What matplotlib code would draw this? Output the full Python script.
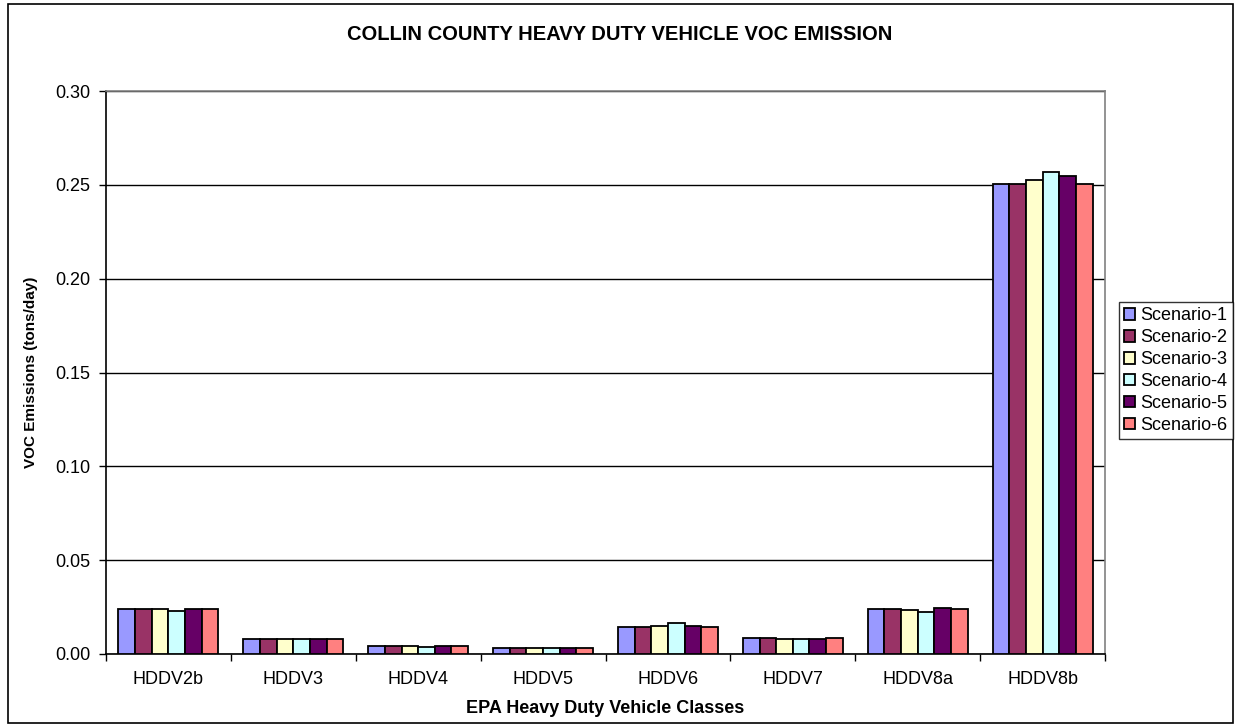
import matplotlib
matplotlib.use("Agg")
import matplotlib.pyplot as plt
import numpy as np
from matplotlib.patches import Rectangle

categories = ["HDDV2b", "HDDV3", "HDDV4", "HDDV5", "HDDV6", "HDDV7", "HDDV8a", "HDDV8b"]
series_names = ["Scenario-1", "Scenario-2", "Scenario-3", "Scenario-4", "Scenario-5", "Scenario-6"]

scenario_1 = [0.0240, 0.0082, 0.0040, 0.0034, 0.0144, 0.0085, 0.0238, 0.2507]
scenario_2 = [0.0240, 0.0082, 0.0040, 0.0034, 0.0144, 0.0085, 0.0238, 0.2504]
scenario_3 = [0.0240, 0.0082, 0.0040, 0.0033, 0.0147, 0.0081, 0.0232, 0.2526]
scenario_4 = [0.0231, 0.0082, 0.0035, 0.0032, 0.0167, 0.0081, 0.0225, 0.2566]
scenario_5 = [0.0240, 0.0082, 0.0040, 0.0034, 0.0147, 0.0081, 0.0246, 0.2545]
scenario_6 = [0.0240, 0.0082, 0.0040, 0.0034, 0.0144, 0.0085, 0.0238, 0.2507]

y_ticks = [0.00, 0.05, 0.10, 0.15, 0.20, 0.25, 0.30]
colors = ["#9999FF", "#993366", "#FFFFCC", "#CCFFFF", "#660066", "#FF8080"]

plt.rcParams["font.family"] = ["Liberation Sans", "DejaVu Sans"]

fig = plt.figure(figsize=(12.38, 7.27), dpi=100)
W, H = 1238, 727
ax = fig.add_axes([106 / W, 1 - 654 / H, (1105 - 106) / W, (654 - 91) / H])

series = [scenario_1, scenario_2, scenario_3, scenario_4, scenario_5, scenario_6]
n = len(series)
group = 0.8
bw = group / n
x = np.arange(len(categories))
handles = []
for i, vals in enumerate(series):
    offs = -group / 2 + bw * (i + 0.5)
    b = ax.bar(x + 0.5 + offs, vals, width=bw, color=colors[i], edgecolor="black",
               linewidth=1.3, label=series_names[i], zorder=3)
    handles.append(b)

ax.set_xlim(0, len(categories))
ax.set_ylim(0, 0.30)
ax.set_yticks(y_ticks)
ax.set_yticklabels([f"{v:.2f}" for v in y_ticks], fontsize=13)
ax.yaxis.grid(True, color="black", linewidth=1.0, zorder=0)
ax.set_xticks(np.arange(len(categories) + 1))
ax.set_xticklabels([])
ax.set_xticks(x + 0.5, minor=True)
ax.set_xticklabels(categories, minor=True, fontsize=13)
ax.tick_params(axis="x", which="minor", length=0, pad=12)
ax.tick_params(axis="x", which="major", direction="out", length=5, width=1)
ax.tick_params(axis="y", direction="out", length=5, width=1, pad=6)

for s in ["top", "right"]:
    ax.spines[s].set_color("#808080")
    ax.spines[s].set_linewidth(1.2)
for s in ["left", "bottom"]:
    ax.spines[s].set_color("black")
    ax.spines[s].set_linewidth(1.2)

ax.set_xlabel("EPA Heavy Duty Vehicle Classes", fontsize=13, fontweight="bold", labelpad=9)
ax.set_ylabel("VOC Emissions (tons/day)", fontsize=11, fontweight="bold")
ax.yaxis.set_label_coords((38 - 106) / (1105 - 106), 0.5)

fig.text(620 / W, 1 - 34 / H, "COLLIN COUNTY HEAVY DUTY VEHICLE VOC EMISSION",
         ha="center", va="center", fontsize=14.5, fontweight="bold")

leg = fig.legend(handles=handles, labels=series_names, loc="upper left",
                 bbox_to_anchor=(1119 / W, 1 - 302 / H), fontsize=13,
                 frameon=True, fancybox=False, edgecolor="black", handlelength=0.6,
                 handleheight=0.6, handletextpad=0.3, borderpad=0.3, labelspacing=0.27,
                 borderaxespad=0)
leg.get_frame().set_linewidth(1.0)

fig.patches.append(Rectangle((8 / W, 4 / H), (1233 - 8) / W, (723 - 4) / H,
                             transform=fig.transFigure, fill=False,
                             edgecolor="black", linewidth=1.2))

fig.savefig("out.png", dpi=100)
